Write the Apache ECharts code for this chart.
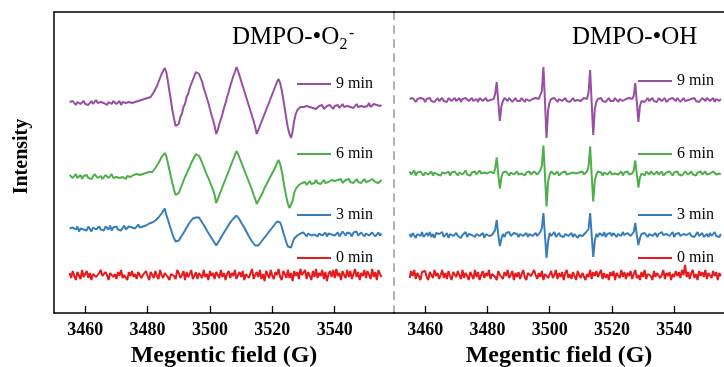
<!DOCTYPE html>
<html><head><meta charset="utf-8">
<script src="https://cdn.jsdelivr.net/npm/echarts@6/dist/echarts.min.js"></script>
<style>html,body{margin:0;padding:0;background:#fff}#c{width:724px;height:367px}</style>
</head><body><div id="c"></div>
<script>
// Magnetic field sampling (G)
const fieldG = [
3455,3455.5,3456,3456.5,3457,3457.5,3458,3458.5,3459,3459.5,
3460,3460.5,3461,3461.5,3462,3462.5,3463,3463.5,3464,3464.5,
3465,3465.5,3466,3466.5,3467,3467.5,3468,3468.5,3469,3469.5,
3470,3470.5,3471,3471.5,3472,3472.5,3473,3473.5,3474,3474.5,
3475,3475.5,3476,3476.5,3477,3477.5,3478,3478.5,3479,3479.5,
3480,3480.5,3481,3481.5,3482,3482.5,3483,3483.5,3484,3484.5,
3485,3485.5,3486,3486.5,3487,3487.5,3488,3488.5,3489,3489.5,
3490,3490.5,3491,3491.5,3492,3492.5,3493,3493.5,3494,3494.5,
3495,3495.5,3496,3496.5,3497,3497.5,3498,3498.5,3499,3499.5,
3500,3500.5,3501,3501.5,3502,3502.5,3503,3503.5,3504,3504.5,
3505,3505.5,3506,3506.5,3507,3507.5,3508,3508.5,3509,3509.5,
3510,3510.5,3511,3511.5,3512,3512.5,3513,3513.5,3514,3514.5,
3515,3515.5,3516,3516.5,3517,3517.5,3518,3518.5,3519,3519.5,
3520,3520.5,3521,3521.5,3522,3522.5,3523,3523.5,3524,3524.5,
3525,3525.5,3526,3526.5,3527,3527.5,3528,3528.5,3529,3529.5,
3530,3530.5,3531,3531.5,3532,3532.5,3533,3533.5,3534,3534.5,
3535,3535.5,3536,3536.5,3537,3537.5,3538,3538.5,3539,3539.5,
3540,3540.5,3541,3541.5,3542,3542.5,3543,3543.5,3544,3544.5,
3545,3545.5,3546,3546.5,3547,3547.5,3548,3548.5,3549,3549.5,
3550,3550.5,3551,3551.5,3552,3552.5,3553,3553.5,3554,3554.5,
3555];

const tickLabels = [3460, 3480, 3500, 3520, 3540];
const seriesNames = ['9 min', '6 min', '3 min', '0 min'];
const panelTitles = ['DMPO-•O', 'DMPO-•OH'];

// DMPO-•O2- intensities (a.u.)
const o2_9min = [
1,-1,2,0,-2,1,3,-1,0,2,
-1,1,-2,0,2,-1,1,3,0,-2,
1,-1,0,2,-2,1,0,-1,2,1,
-1,0,2,-2,1,3,0,-1,1,2,
0,2,1,3,2,4,3,5,4,6,
5,7,6,8,11,14,17,21,25,29,
32,35,31,22,12,2,-8,-16,-23,-25,
-21,-14,-11,-4,-1,6,9,15,17,23,
27,31,33,29,25,21,15,10,5,0,
-6,-12,-17,-23,-31,-27,-21,-16,-11,-5,
0,6,11,17,22,27,31,36,32,27,
22,17,12,7,2,-3,-8,-13,-18,-24,
-31,-27,-23,-19,-15,-11,-7,-3,1,5,
9,13,17,21,24,20,13,4,-6,-16,
-25,-31,-35,-28,-18,-11,-7,-5,-4,-5,
-4,-6,-3,-5,-4,-2,-5,-3,-6,-4,
-3,-5,-2,-6,-4,-3,-5,-2,-4,-6,
-3,-4,-2,-5,-3,-1,-4,-6,-3,-2,
-4,-2,-5,-3,-1,-4,-2,-3,-1,-4,
-2,-3,0,-4,-2,-1,-3,-2,0,-3,
-2];
const o2_6min = [
2,0,-1,1,3,-1,0,2,-2,1,
0,2,-1,1,-2,0,3,1,-1,0,
1,-2,0,2,1,-1,0,3,-1,1,
0,2,-1,1,0,2,-2,1,3,0,
1,2,0,3,1,2,4,3,2,4,
4,5,6,5,7,9,11,14,17,20,
22,24,21,14,7,0,-7,-13,-18,-20,
-16,-12,-8,-4,0,3,7,10,14,17,
20,23,24,21,18,14,10,6,2,-1,
-5,-9,-13,-18,-26,-22,-18,-14,-10,-6,
-2,2,6,10,14,18,22,26,23,19,
15,11,7,3,-1,-5,-9,-13,-18,-22,
-27,-24,-21,-18,-15,-11,-8,-5,-2,1,
4,7,10,14,17,13,6,-3,-12,-20,
-27,-31,-32,-24,-16,-12,-10,-8,-7,-6,
-7,-5,-8,-6,-4,-7,-5,-6,-3,-6,
-4,-7,-5,-3,-6,-4,-5,-7,-3,-5,
-4,-6,-3,-5,-2,-6,-4,-3,-5,-2,
-5,-3,-6,-4,-2,-5,-3,-6,-4,-2,
-5,-3,-4,-6,-2,-4,-5,-3,-6,-4,
-3];
const o2_3min = [
0,-2,1,3,-1,2,-3,0,2,-1,
1,-2,2,0,-3,1,3,-1,0,2,
-1,1,-2,2,0,-1,3,-2,1,0,
2,-1,1,-2,0,3,-1,1,2,0,
1,3,0,2,4,1,3,2,4,3,
2,5,3,6,5,8,9,11,13,15,
17,20,14,9,4,-1,-6,-10,-13,-15,
-12,-10,-7,-5,-2,1,3,6,8,10,
12,11,13,11,9,6,4,1,-2,-4,
-7,-9,-12,-14,-17,-15,-12,-9,-7,-4,
-2,1,3,6,8,10,12,13,11,9,
6,4,1,-2,-5,-8,-10,-13,-15,-17,
-19,-17,-15,-13,-11,-9,-7,-5,-3,-1,
1,3,5,7,8,6,2,-4,-9,-14,
-18,-20,-19,-14,-10,-8,-7,-6,-5,-7,
-4,-6,-8,-5,-3,-7,-5,-6,-4,-8,
-5,-3,-7,-6,-4,-8,-5,-3,-6,-4,
-7,-5,-4,-8,-6,-3,-5,-7,-4,-6,
-5,-8,-4,-6,-3,-7,-5,-4,-6,-8,
-5,-3,-7,-6,-4,-5,-8,-6,-4,-7,
-5];
const o2_0min = [
2,-3,4,-1,-5,3,1,-4,5,-2,
0,4,-3,2,-5,1,3,-2,-4,2,
5,-1,-3,3,0,-5,2,4,-2,1,
-4,3,-1,5,-3,0,2,-5,3,-1,
4,-2,1,-4,3,5,-3,0,-2,4,
-1,-5,3,2,-3,4,-1,-4,5,0,
-3,2,4,-2,-5,1,3,-1,-4,5,
2,-3,0,4,-5,3,-2,1,5,-4,
-1,3,-4,2,0,-3,5,-2,1,-5,
4,-1,2,-4,3,0,-3,5,-2,2,
-5,1,4,-3,2,-1,5,-4,0,3,
-2,4,-5,1,3,-3,2,6,-4,0,
3,-2,5,-4,1,-6,4,2,-3,5,
-1,-4,3,0,6,-2,-5,4,1,-3,
5,-3,2,-6,4,-1,3,-4,6,0,
-2,5,-4,3,1,-5,4,-2,6,-3,
2,-1,5,-4,3,-6,1,4,-2,5,
-3,6,-1,2,-5,4,0,-3,5,-2,
4,-4,1,6,-2,3,-5,2,-1,5,
-3,4,0,-4,6,-2,3,-5,5,1,
-2];

// DMPO-•OH intensities (a.u.)
const oh_9min = [
1,-1,2,0,-2,1,-1,2,0,1,
-2,1,0,2,-1,1,-2,0,2,-1,
0,2,-1,1,-2,2,0,-1,1,2,
-1,0,2,-2,1,-1,2,0,-1,1,
2,-1,0,1,-2,2,1,-1,0,2,
-1,1,0,2,1,6,18,-2,-21,-6,
-1,2,0,-1,2,1,-2,0,2,-1,
1,-1,2,0,-2,1,2,-1,0,1,
-1,2,0,1,3,9,33,-2,-38,-10,
-2,1,-1,2,0,-2,1,2,-1,0,
2,-1,1,-2,0,2,-1,1,0,2,
-1,1,2,0,1,8,30,-3,-35,-9,
-2,1,0,2,-1,1,-2,0,2,-1,
1,-1,2,0,-2,1,2,-1,0,1,
-1,2,0,1,4,17,-2,-22,-6,-1,
1,-2,0,2,-1,1,2,-1,0,-2,
2,0,-1,1,2,-2,0,1,-1,2,
0,-1,2,1,-2,0,2,-1,1,0,
-2,1,0,2,-1,1,-2,0,2,1,
-1,2,0,-1,1,2,-2,1,0,-1,
1];
const oh_6min = [
2,-1,0,3,-2,1,-1,2,0,-2,
1,2,-1,0,2,-2,1,3,-1,0,
-2,1,2,0,-1,2,-2,1,0,2,
0,-2,1,2,-1,0,3,-1,1,-2,
1,0,2,-1,1,3,0,-2,1,2,
0,-1,2,1,0,5,16,-1,-15,-4,
1,-1,2,0,-2,1,3,-1,0,2,
-1,1,0,2,-2,1,0,2,-1,1,
2,0,-1,1,3,8,28,-2,-33,-8,
-1,2,0,-1,1,2,-2,0,1,-1,
2,-1,1,0,-2,1,2,0,-1,1,
0,2,-1,1,2,7,27,-2,-28,-7,
-1,2,0,1,-2,1,2,-1,0,2,
-1,1,0,2,-1,0,2,-2,1,0,
2,-1,1,0,3,13,-1,-14,-4,0,
1,-2,2,0,-1,2,1,-1,0,2,
-1,1,2,-2,0,1,-1,2,0,-2,
1,0,2,-1,1,-2,0,2,1,-1,
0,2,-1,1,-2,1,0,2,-1,0,
2,-1,1,0,-2,2,0,-1,1,0,
-1];
const oh_3min = [
1,-2,2,0,-3,1,2,-1,3,-2,
0,2,-1,3,-2,1,-3,2,0,1,
-1,3,-2,0,2,-3,1,2,-1,0,
2,-1,1,-3,0,2,3,-2,1,-1,
0,2,-2,1,3,-1,0,2,-3,1,
2,-1,1,0,2,5,15,0,-11,-4,
1,-2,2,0,3,-1,-3,2,0,1,
-2,1,3,-1,0,2,-2,1,2,-1,
0,2,-1,1,3,7,22,-1,-23,-6,
2,-1,1,3,-2,0,2,-1,1,-2,
1,3,-1,0,2,-2,1,2,-3,0,
2,-1,0,2,1,6,22,0,-22,-6,
1,-2,2,0,-1,3,-2,1,0,2,
-1,2,0,-2,1,2,-1,3,0,-1,
2,0,-1,1,3,12,0,-10,-3,1,
-1,2,0,-2,1,3,-1,0,2,-2,
1,-1,3,0,-2,1,2,-1,0,3,
-2,1,0,2,-1,-3,1,2,0,-1,
2,-1,1,-2,0,3,-1,1,2,-2,
0,1,-2,2,-1,0,3,-1,1,-2,
1];
const oh_0min = [
-3,4,-1,5,-4,2,0,-5,3,1,
4,-2,-5,3,1,-3,5,-1,2,-4,
0,5,-3,2,-4,4,-1,-5,3,1,
-2,4,0,-4,5,-3,2,-1,-5,3,
1,-4,5,-2,3,-5,0,4,-3,2,
-1,5,-4,1,3,-2,-5,4,0,2,
-4,3,-1,5,-3,0,4,-5,2,-2,
3,-4,1,5,-2,-5,2,4,-1,-3,
5,0,-4,2,-2,4,-5,1,3,-3,
-1,4,-3,0,5,-4,2,-2,3,-5,
2,5,-3,1,-4,3,-1,-5,4,0,
-3,2,4,-5,1,-2,5,-4,3,-1,
4,-2,0,5,-4,2,-3,1,-5,3,
-1,4,-5,2,0,-3,5,-2,3,-4,
2,-1,4,-4,1,5,-3,0,-5,3,
-2,5,-4,1,3,-1,-5,4,-2,2,
4,-3,0,5,-4,2,-1,3,-5,1,
-2,4,-1,3,-3,5,0,10,-2,3,
-4,2,5,-3,1,-5,4,-1,3,-2,
5,-4,2,0,-3,4,-1,3,-5,2,
-1];

const panels = [
  {'9 min': o2_9min, '6 min': o2_6min, '3 min': o2_3min, '0 min': o2_0min},
  {'9 min': oh_9min, '6 min': oh_6min, '3 min': oh_3min, '0 min': oh_0min}
];

// ---------- layout / style ----------
const SERIF = "'Liberation Serif','Times New Roman',serif";
const colors = {'9 min':'#984ea3','6 min':'#4daf4a','3 min':'#377eb8','0 min':'#e41a1c'};
const stackOffset = [
  {'9 min':210,'6 min':136,'3 min':84.5,'0 min':38},
  {'9 min':213,'6 min':139.5,'3 min':78,'0 min':38}
];
const legendTop = [
  {'9 min':76,'6 min':146,'3 min':207,'0 min':250},
  {'9 min':73,'6 min':146,'3 min':207,'0 min':250}
];
const legendLeft = [297, 638];
const xRange = [[3450, 3559], [3450, 3556]];

panels.forEach(p => seriesNames.forEach(n => {
  if (p[n].length !== fieldG.length) throw new Error('length mismatch ' + n + ' ' + p[n].length);
}));

const grid = [
  {left:54, top:12, width:340, height:301, outerBoundsMode:'none', containLabel:false},
  {left:394, top:12, width:330, height:301, outerBoundsMode:'none', containLabel:false}
];
const xAxis = [], yAxis = [], series = [], legend = [];
[0,1].forEach(g => {
  xAxis.push({
    type:'value', gridIndex:g, min:xRange[g][0], max:xRange[g][1],
    axisLine:{show:true, onZero:false, lineStyle:{color:'#000', width:1.5}},
    axisTick:{show:true, inside:true, length:7, customValues:tickLabels, lineStyle:{color:'#000', width:1.3}},
    axisLabel:{customValues:tickLabels, formatter:v => String(v), fontFamily:SERIF, fontWeight:'bold', fontSize:18, color:'#000', margin:8},
    splitLine:{show:false},
    name:'Megentic field (G)', nameLocation:'middle', nameGap:24,
    nameTextStyle:{fontFamily:SERIF, fontWeight:'bold', fontSize:24, color:'#000'}
  });
  xAxis.push({
    type:'value', gridIndex:g, position:'top', min:xRange[g][0], max:xRange[g][1],
    axisLine:{show:true, onZero:false, lineStyle:{color:'#000', width:1.5}},
    axisTick:{show:false}, axisLabel:{show:false}, splitLine:{show:false}
  });
  yAxis.push(g === 0 ? {
    type:'value', gridIndex:0, min:0, max:301,
    axisLine:{show:true, onZero:false, lineStyle:{color:'#000', width:1.5}},
    axisTick:{show:false}, axisLabel:{show:false}, splitLine:{show:false},
    name:'Intensity', nameLocation:'middle', nameGap:22, nameRotate:90,
    nameTextStyle:{fontFamily:SERIF, fontWeight:'bold', fontSize:20, color:'#000', padding:[0,0,0,12]}
  } : {
    type:'value', gridIndex:1, min:0, max:301,
    axisLine:{show:true, onZero:false, lineStyle:{color:'#b0b0b0', width:2, type:[7,7]}},
    axisTick:{show:false}, axisLabel:{show:false}, splitLine:{show:false}
  });
  seriesNames.forEach(n => {
    const vals = panels[g][n];
    series.push({
      type:'line', name:n, xAxisIndex:g*2, yAxisIndex:g,
      data: fieldG.map((x,i) => [x, stackOffset[g][n] + vals[i]]),
      showSymbol:false, symbol:'none', silent:true,
      lineStyle:{color:colors[n], width:2}, itemStyle:{color:colors[n]}
    });
    legend.push({
      data:[n], left:legendLeft[g], top:legendTop[g][n], padding:0,
      icon:'rect', itemWidth:34, itemHeight:2, selectedMode:false,
      textStyle:{fontFamily:SERIF, fontSize:16, color:'#000'}
    });
  });
});

const title = [
  {text:panelTitles[0], left:232, top:25, padding:0, textStyle:{fontFamily:SERIF, fontSize:25, fontWeight:'normal', color:'#000', lineHeight:25}},
  {text:'2', left:339.5, top:37, padding:0, textStyle:{fontFamily:SERIF, fontSize:16, fontWeight:'normal', color:'#000', lineHeight:16}},
  {text:'-', left:349, top:26, padding:0, textStyle:{fontFamily:SERIF, fontSize:16, fontWeight:'normal', color:'#000', lineHeight:16}},
  {text:panelTitles[1], left:572, top:25, padding:0, textStyle:{fontFamily:SERIF, fontSize:25, fontWeight:'normal', color:'#000', lineHeight:25}}
];

const chart = echarts.init(document.getElementById('c'), null, {renderer:'canvas'});
chart.setOption({
  animation:false, backgroundColor:'#fff',
  title, legend, grid, xAxis, yAxis, series
});
</script></body></html>
